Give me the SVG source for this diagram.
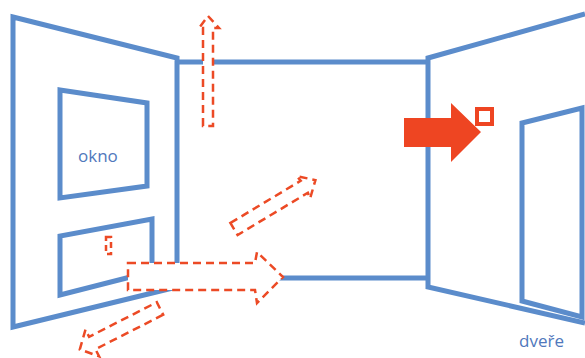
<svg xmlns="http://www.w3.org/2000/svg" width="585" height="358" viewBox="0 0 585 358">
<style>
.wall{fill:none;stroke:#5B8CCB;stroke-width:5;stroke-linejoin:miter;stroke-linecap:butt}
.dash{fill:#fff;stroke:#EC4A25;stroke-width:2.5;stroke-dasharray:8 5;stroke-linejoin:miter}
.lbl{font-family:"Open Sans","Liberation Sans",sans-serif;font-size:17px;fill:#5078BC}
</style>
<rect width="585" height="358" fill="#fff"/>
<g id="room">
<polygon class="wall" points="13,17 177,58 177,287 13,327"/>
<line class="wall" x1="177" y1="62" x2="428" y2="62"/>
<line class="wall" x1="177" y1="278" x2="428" y2="278"/>
<polyline class="wall" points="585,14 428,58 428,287 585,323"/>
</g>
<g id="okno">
<polygon class="wall" points="60,90 147,103 147,186 60,198"/>
<text class="lbl" x="78" y="162">okno</text>
</g>
<g id="lower-window">
<polyline class="wall" points="152,263 152,219 60,236 60,295 150,272"/>
</g>
<g id="door">
<polygon class="wall" points="522,301 522,123 582,108 582,317"/>
<text class="lbl" x="519" y="347">dveře</text>
</g>
<g id="flows">
<rect class="dash" x="106" y="237" width="5" height="17" style="stroke-dasharray:6 4"/>
<polygon class="dash" points="203,126 203,28 199,28 208,16 219,28 213,28 213,126"/>
<polygon class="dash" points="128,263 255,263 257,252 283,277 257,303 255,290 128,290"/>
<polygon class="dash" transform="translate(234,229) rotate(-31)" points="0,-7 82,-7 81,-13 95,0 81,13 82,7 0,7"/>
<polygon class="dash" transform="translate(160,308.5) rotate(153)" points="0,-7 76,-7 76,-15 90,0 76,15 76,7 0,7"/>
<polygon fill="#EE4522" points="404,118 451,118 451,103 481,132 451,162 451,147 404,147"/>
<rect x="477" y="109" width="15" height="15" fill="#fff" stroke="#EE4522" stroke-width="4"/>
</g>
</svg>
